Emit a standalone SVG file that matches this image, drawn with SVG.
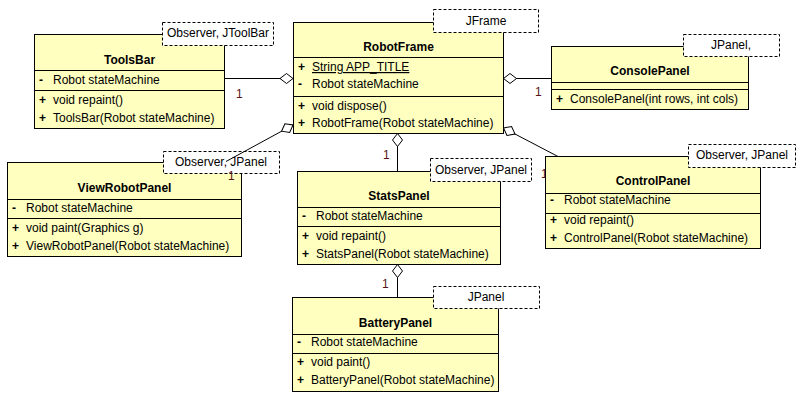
<svg xmlns="http://www.w3.org/2000/svg" width="801" height="400" viewBox="0 0 801 400">
  <style>
    .cls { fill: #ffffc0; stroke: #000; stroke-width: 1; }
    .sep { stroke: #000; stroke-width: 1; }
    .tpl { fill: #fff; stroke: #000; stroke-width: 1; stroke-dasharray: 3 2; }
    text { font-family: "Liberation Sans", Arial, sans-serif; font-size: 12px; fill: #000; }
    .title { font-weight: bold; text-anchor: middle; }
    .vis { font-weight: bold; }
    .mid { text-anchor: middle; }
    .edge { fill: none; stroke: #000; stroke-width: 1; }
    .mult { fill: #561414; }
  </style>
  <defs>
    <marker id="agg" markerUnits="userSpaceOnUse" markerWidth="15" markerHeight="12" refX="0.5" refY="6" orient="auto" viewBox="0 0 15 12">
      <path d="M0.5,6 L7,1 L13.5,6 L7,11 Z" fill="#fff" stroke="#000" stroke-width="1"/>
    </marker>
  </defs>
  <rect width="801" height="400" fill="#fff"/>

  <g id="ToolsBar">
    <rect class="cls" x="34.5" y="34.5" width="190" height="94"/>
    <line class="sep" x1="34.5" y1="70.5" x2="224.5" y2="70.5"/>
    <line class="sep" x1="34.5" y1="90.5" x2="224.5" y2="90.5"/>
    <rect class="tpl" x="162.5" y="22.5" width="111" height="23"/>
    <text class="mid" x="218" y="37">Observer, JToolBar</text>
    <text class="title" x="129.5" y="64">ToolsBar</text>
    <text class="vis" x="39" y="84">-</text>
    <text x="53" y="84">Robot stateMachine</text>
    <text class="vis" x="39" y="104">+</text>
    <text x="53" y="104">void repaint()</text>
    <text class="vis" x="39" y="122">+</text>
    <text x="53" y="122">ToolsBar(Robot stateMachine)</text>
  </g>

  <g id="RobotFrame">
    <rect class="cls" x="293.5" y="22.5" width="210" height="111"/>
    <line class="sep" x1="293.5" y1="57.5" x2="503.5" y2="57.5"/>
    <line class="sep" x1="293.5" y1="96.5" x2="503.5" y2="96.5"/>
    <rect class="tpl" x="433.5" y="9.5" width="105" height="23"/>
    <text class="mid" x="486" y="25">JFrame</text>
    <text class="title" x="398.5" y="51">RobotFrame</text>
    <text class="vis" x="298" y="71">+</text>
    <text x="312" y="71" text-decoration="underline">String APP_TITLE</text>
    <text class="vis" x="298" y="88">-</text>
    <text x="312" y="88">Robot stateMachine</text>
    <text class="vis" x="298" y="110">+</text>
    <text x="312" y="110">void dispose()</text>
    <text class="vis" x="298" y="127">+</text>
    <text x="312" y="127">RobotFrame(Robot stateMachine)</text>
  </g>

  <g id="ViewRobotPanel">
    <rect class="cls" x="7.5" y="162.5" width="234" height="94"/>
    <line class="sep" x1="7.5" y1="199.5" x2="241.5" y2="199.5"/>
    <line class="sep" x1="7.5" y1="218.5" x2="241.5" y2="218.5"/>
    <rect class="tpl" x="163.5" y="151.5" width="116" height="22"/>
    <text class="mid" x="221" y="166">Observer, JPanel</text>
    <text class="title" x="124.5" y="192">ViewRobotPanel</text>
    <text class="vis" x="12" y="212">-</text>
    <text x="26" y="212">Robot stateMachine</text>
    <text class="vis" x="12" y="232">+</text>
    <text x="26" y="232">void paint(Graphics g)</text>
    <text class="vis" x="12" y="250">+</text>
    <text x="26" y="250">ViewRobotPanel(Robot stateMachine)</text>
  </g>

  <g id="connectors">
    <!-- aggregations: the hollow diamond sits at the owning class -->
    <path class="edge" marker-start="url(#agg)" d="M293,78.5 L224.5,78.5"/>
    <text class="mult" x="236" y="98">1</text>
    <path class="edge" marker-start="url(#agg)" d="M503.5,78.5 L551.5,78.5"/>
    <text class="mult" x="535" y="96">1</text>
    <path class="edge" marker-start="url(#agg)" d="M397.5,133.5 L397.5,171.5"/>
    <text class="mult" x="383" y="159">1</text>
    <path class="edge" marker-start="url(#agg)" d="M293,125 L226,161.5"/>
    <text class="mult" x="228" y="180">1</text>
    <path class="edge" marker-start="url(#agg)" d="M503.5,128 L558,156.5"/>
    <text class="mult" x="541" y="178">1</text>
    <path class="edge" marker-start="url(#agg)" d="M397.5,264.5 L397.5,297.5"/>
    <text class="mult" x="382" y="288">1</text>
  </g>

  <g id="ConsolePanel">
    <rect class="cls" x="551.5" y="46.5" width="197" height="63"/>
    <line class="sep" x1="551.5" y1="82.5" x2="748.5" y2="82.5"/>
    <line class="sep" x1="551.5" y1="89.5" x2="748.5" y2="89.5"/>
    <rect class="tpl" x="683.5" y="34.5" width="96" height="22"/>
    <text class="mid" x="731" y="49">JPanel,</text>
    <text class="title" x="650" y="75">ConsolePanel</text>
    <text class="vis" x="556" y="103">+</text>
    <text x="570" y="103">ConsolePanel(int rows, int cols)</text>
  </g>

  <g id="StatsPanel">
    <rect class="cls" x="297.5" y="171.5" width="203" height="93"/>
    <line class="sep" x1="297.5" y1="207.5" x2="500.5" y2="207.5"/>
    <line class="sep" x1="297.5" y1="226.5" x2="500.5" y2="226.5"/>
    <rect class="tpl" x="430.5" y="158.5" width="101" height="23"/>
    <text class="mid" x="481" y="174">Observer, JPanel</text>
    <text class="title" x="399" y="200">StatsPanel</text>
    <text class="vis" x="302" y="220">-</text>
    <text x="316" y="220">Robot stateMachine</text>
    <text class="vis" x="302" y="240">+</text>
    <text x="316" y="240">void repaint()</text>
    <text class="vis" x="302" y="258">+</text>
    <text x="316" y="258">StatsPanel(Robot stateMachine)</text>
  </g>

  <g id="ControlPanel">
    <rect class="cls" x="545.5" y="156.5" width="215" height="92"/>
    <line class="sep" x1="545.5" y1="193.5" x2="760.5" y2="193.5"/>
    <line class="sep" x1="545.5" y1="213.5" x2="760.5" y2="213.5"/>
    <rect class="tpl" x="688.5" y="144.5" width="107" height="23"/>
    <text class="mid" x="742" y="159">Observer, JPanel</text>
    <text class="title" x="653" y="185">ControlPanel</text>
    <text class="vis" x="550" y="204">-</text>
    <text x="564" y="204">Robot stateMachine</text>
    <text class="vis" x="550" y="224">+</text>
    <text x="564" y="224">void repaint()</text>
    <text class="vis" x="550" y="242">+</text>
    <text x="564" y="242">ControlPanel(Robot stateMachine)</text>
  </g>

  <g id="BatteryPanel">
    <rect class="cls" x="292.5" y="297.5" width="206" height="94"/>
    <line class="sep" x1="292.5" y1="334.5" x2="498.5" y2="334.5"/>
    <line class="sep" x1="292.5" y1="353.5" x2="498.5" y2="353.5"/>
    <rect class="tpl" x="433.5" y="286.5" width="106" height="22"/>
    <text class="mid" x="486" y="301">JPanel</text>
    <text class="title" x="395.5" y="327">BatteryPanel</text>
    <text class="vis" x="297" y="346">-</text>
    <text x="311" y="346">Robot stateMachine</text>
    <text class="vis" x="297" y="366">+</text>
    <text x="311" y="366">void paint()</text>
    <text class="vis" x="297" y="384">+</text>
    <text x="311" y="384">BatteryPanel(Robot stateMachine)</text>
  </g>
</svg>
